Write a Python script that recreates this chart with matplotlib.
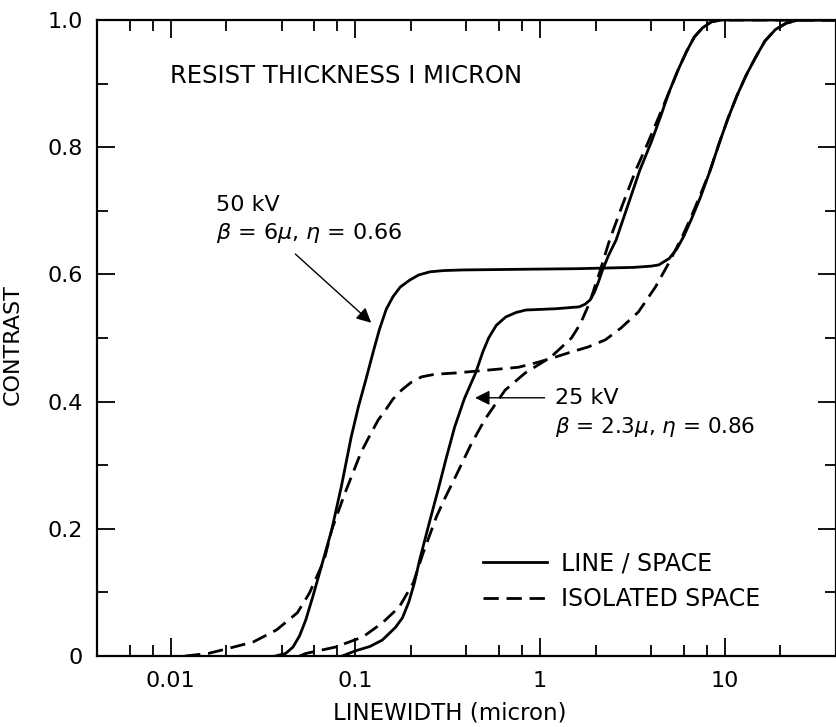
import matplotlib
matplotlib.use("Agg")
import matplotlib.pyplot as plt
from matplotlib.ticker import FixedLocator, FixedFormatter, LogLocator, NullFormatter

# contrast vs. linewidth (micron) for 1 micron resist
# 50 kV, line/space
lw_50_line = [0.037, 0.042, 0.046, 0.05, 0.054, 0.059, 0.0647, 0.0745, 0.084, 0.095,
              0.104, 0.114, 0.125, 0.135, 0.147, 0.16, 0.175, 0.197, 0.22, 0.253,
              0.3, 0.38, 0.77, 1.6, 3.2, 4.0, 4.4, 5.0, 5.5, 6.0,
              6.6, 7.4, 8.3, 9.3, 10.4, 11.6, 13.0, 14.6, 16.5, 18.8,
              21.5, 25.0, 40.0]
c_50_line = [0.0, 0.004, 0.014, 0.032, 0.057, 0.094, 0.135, 0.198, 0.266, 0.344,
             0.392, 0.434, 0.478, 0.513, 0.545, 0.565, 0.58, 0.591, 0.599, 0.604,
             0.606, 0.607, 0.608, 0.609, 0.611, 0.613, 0.615, 0.625, 0.64, 0.66,
             0.687, 0.722, 0.762, 0.805, 0.845, 0.88, 0.912, 0.94, 0.967, 0.985,
             0.995, 1.0, 1.0]

# 50 kV, isolated space
lw_50_iso = [0.012, 0.016, 0.02, 0.028, 0.0375, 0.0486, 0.0565, 0.0679, 0.0745, 0.0879,
             0.107, 0.117, 0.133, 0.146, 0.16, 0.178, 0.2, 0.229, 0.27, 0.348,
             0.5, 0.763, 0.98, 1.21, 1.475, 1.825, 2.255, 2.75, 3.41, 4.21,
             4.98, 5.4, 5.9, 6.5, 7.3, 8.3, 9.3, 10.4, 11.6, 13.0,
             14.6, 16.5, 18.8, 21.5, 25.0, 40.0]
c_50_iso = [0.0, 0.004, 0.011, 0.022, 0.041, 0.068, 0.099, 0.151, 0.198, 0.256,
            0.319, 0.341, 0.371, 0.387, 0.404, 0.418, 0.43, 0.439, 0.443, 0.445,
            0.449, 0.454, 0.462, 0.47, 0.478, 0.486, 0.497, 0.516, 0.541, 0.58,
            0.618, 0.638, 0.66, 0.687, 0.722, 0.762, 0.805, 0.845, 0.88, 0.912,
            0.94, 0.967, 0.985, 0.995, 1.0, 1.0]

# 25 kV, line/space
lw_25_line = [0.085, 0.1, 0.12, 0.14, 0.165, 0.18, 0.195, 0.209, 0.223, 0.254,
              0.28, 0.31, 0.345, 0.39, 0.448, 0.49, 0.527, 0.58, 0.652, 0.74,
              0.838, 1.215, 1.63, 1.75, 1.87, 1.97, 2.07, 2.18, 2.35, 2.58,
              3.0, 3.47, 4.0, 4.49, 5.0, 5.58, 6.2, 6.83, 7.6, 8.45,
              9.5, 40.0]
c_25_line = [0.0, 0.008, 0.015, 0.025, 0.045, 0.06, 0.085, 0.115, 0.151, 0.214,
             0.26, 0.31, 0.36, 0.405, 0.445, 0.478, 0.50, 0.52, 0.533, 0.54,
             0.544, 0.546, 0.549, 0.553, 0.56, 0.572, 0.588, 0.607, 0.63, 0.654,
             0.71, 0.764, 0.808, 0.848, 0.887, 0.921, 0.95, 0.973, 0.988, 0.997,
             1.0, 1.0]

# 25 kV, isolated space
lw_25_iso = [0.05, 0.054, 0.078, 0.11, 0.14, 0.173, 0.206, 0.233, 0.275, 0.302,
             0.357, 0.422, 0.503, 0.647, 0.831, 1.145, 1.48, 1.65, 1.84, 2.085,
             2.38, 2.8, 3.3, 3.85, 4.4, 5.0, 5.58, 6.2, 6.83, 7.6,
             8.45, 9.5, 40.0]
c_25_iso = [0.0, 0.004, 0.014, 0.03, 0.052, 0.077, 0.115, 0.162, 0.219, 0.245,
            0.288, 0.332, 0.372, 0.418, 0.445, 0.47, 0.50, 0.522, 0.553, 0.60,
            0.654, 0.71, 0.764, 0.808, 0.848, 0.887, 0.921, 0.95, 0.973, 0.988,
            0.997, 1.0, 1.0]

x_ticks = [0.01, 0.1, 1, 10]
x_tick_labels = ["0.01", "0.1", "1", "10"]
y_ticks = [0, 0.2, 0.4, 0.6, 0.8, 1.0]
y_tick_labels = ["0", "0.2", "0.4", "0.6", "0.8", "1.0"]

plt.rcParams["font.family"] = ["DejaVu Sans"]
plt.rcParams["mathtext.fontset"] = "dejavusans"
FS = 16

fig = plt.figure(figsize=(8.37, 7.27), dpi=100)
ax = fig.add_axes([97 / 837, 71 / 727, 739 / 837, 636 / 727])

dash = (0, (5.5, 2.8))
ax.plot(lw_50_line, c_50_line, color="black", lw=2.0, solid_joinstyle="round", label="LINE / SPACE")
ax.plot(lw_50_iso, c_50_iso, color="black", lw=2.0, linestyle=dash, label="ISOLATED SPACE")
ax.plot(lw_25_line, c_25_line, color="black", lw=2.0, solid_joinstyle="round")
ax.plot(lw_25_iso, c_25_iso, color="black", lw=2.0, linestyle=dash)

ax.set_xscale("log")
ax.set_xlim(0.004, 40)
ax.set_ylim(0, 1.0)

ax.xaxis.set_major_locator(FixedLocator(x_ticks))
ax.xaxis.set_major_formatter(FixedFormatter(x_tick_labels))
ax.xaxis.set_minor_locator(LogLocator(base=10, subs=(2, 4, 6, 8), numticks=20))
ax.xaxis.set_minor_formatter(NullFormatter())
ax.yaxis.set_major_locator(FixedLocator(y_ticks))
ax.yaxis.set_major_formatter(FixedFormatter(y_tick_labels))
ax.yaxis.set_minor_locator(FixedLocator([0.1, 0.3, 0.5, 0.7, 0.9]))

ax.tick_params(which="both", direction="in", top=True, right=True, width=1.3, labelsize=FS)
ax.tick_params(which="major", length=13)
ax.tick_params(which="minor", length=8)
ax.tick_params(axis="x", pad=11)
ax.tick_params(axis="y", pad=10)
for s in ax.spines.values():
    s.set_linewidth(1.6)

ax.set_xlabel("LINEWIDTH (micron)", fontsize=16.5)
ax.set_ylabel("CONTRAST", fontsize=16)
ax.xaxis.set_label_coords(0.478, -0.072)
ax.yaxis.set_label_coords(-0.100, 0.49)

ax.text(0.099, 0.912, "RESIST THICKNESS I MICRON", transform=ax.transAxes,
        fontsize=17.5, va="center", ha="left")

ax.text(0.0177, 0.709, "50 kV", fontsize=FS, va="center", ha="left")
ax.text(0.0177, 0.665, r"$\beta$ = 6$\mu$, $\eta$ = 0.66", fontsize=FS, va="center", ha="left")
ax.annotate("", xy=(0.122, 0.524), xytext=(0.0474, 0.632),
            arrowprops=dict(arrowstyle="-|>", color="black", lw=1.0,
                            mutation_scale=22, shrinkA=0, shrinkB=0))

ax.text(1.2, 0.406, "25 kV", fontsize=FS, va="center", ha="left")
ax.text(1.2, 0.360, r"$\beta$ = 2.3$\mu$, $\eta$ = 0.86", fontsize=15.5, va="center", ha="left")
ax.annotate("", xy=(0.445, 0.406), xytext=(1.06, 0.406),
            arrowprops=dict(arrowstyle="-|>", color="black", lw=1.0,
                            mutation_scale=22, shrinkA=0, shrinkB=0))

ax.legend(loc="center left", bbox_to_anchor=(0.523, 0.118), frameon=False,
          fontsize=17, handlelength=2.7, handletextpad=0.6, labelspacing=0.5,
          borderpad=0, borderaxespad=0)

fig.savefig("out.png", dpi=100, facecolor="white")
